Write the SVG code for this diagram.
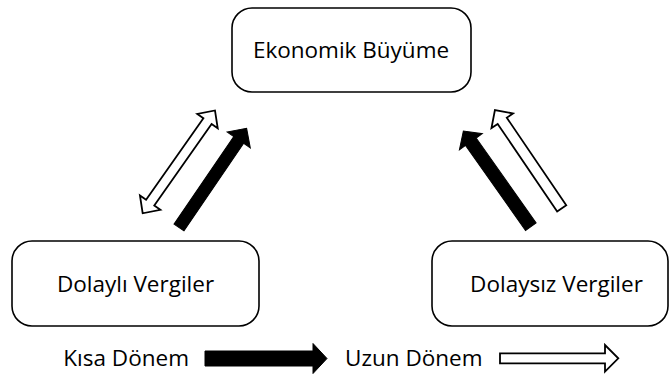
<svg xmlns="http://www.w3.org/2000/svg" width="670" height="376" viewBox="0 0 670 376">
<style>
.box{fill:#fff;stroke:#000;stroke-width:1.6}
.lbl{font-family:"Open Sans","Noto Sans","Liberation Sans",sans-serif;font-size:22.5px;fill:#000;text-anchor:middle}
.blk{fill:#000;stroke:#000;stroke-width:1}
.out{fill:#fff;stroke:#000;stroke-width:1.8;stroke-linejoin:miter}
</style>
<rect width="670" height="376" fill="#fff"/>
<g id="ekonomik-buyume">
<rect class="box" x="232" y="8" width="239" height="84" rx="20"/>
<text class="lbl" x="351" y="58">Ekonomik Büyüme</text>
</g>
<g id="dolayli-vergiler">
<rect class="box" x="12" y="241" width="247" height="85" rx="20"/>
<text class="lbl" x="135.5" y="292">Dolaylı Vergiler</text>
</g>
<g id="dolaysiz-vergiler">
<rect class="box" x="432" y="241" width="236" height="85" rx="20"/>
<text class="lbl" x="556.5" y="292">Dolaysız Vergiler</text>
</g>
<g id="connectors">
<g transform="translate(142.7,213.3) rotate(-54.9)">
<polygon class="out" points="0,0 13,-12.5 13,-5 112.7,-5 112.7,-12.5 125.7,0 112.7,12.5 112.7,5 13,5 13,12.5"/>
</g>
<g transform="translate(179,227.5) rotate(-55.7)">
<polygon class="blk" points="0,-6 106,-6 106,-14 120,0 106,14 106,6 0,6"/>
</g>
<g transform="translate(530.8,226.7) rotate(-125.2)">
<polygon class="blk" points="0,-6.5 104,-6.5 104,-14 117,0 104,14 104,6.5 0,6.5"/>
</g>
<g transform="translate(561.7,208.3) rotate(-124.2)">
<polygon class="out" points="0,-5.5 105.8,-5.5 105.8,-13 118.8,0 105.8,13 105.8,5.5 0,5.5"/>
</g>
</g>
<g id="legend">
<text class="lbl" x="189" y="366" style="text-anchor:end">Kısa Dönem</text>
<polygon class="blk" points="205,351 313,351 313,343.5 327,358.5 313,373.5 313,366 205,366"/>
<text class="lbl" x="345" y="366" style="text-anchor:start">Uzun Dönem</text>
<polygon class="out" points="500,353.3 605,353.3 605,345 618.3,358.3 605,371.6 605,363.3 500,363.3"/>
</g>
</svg>
